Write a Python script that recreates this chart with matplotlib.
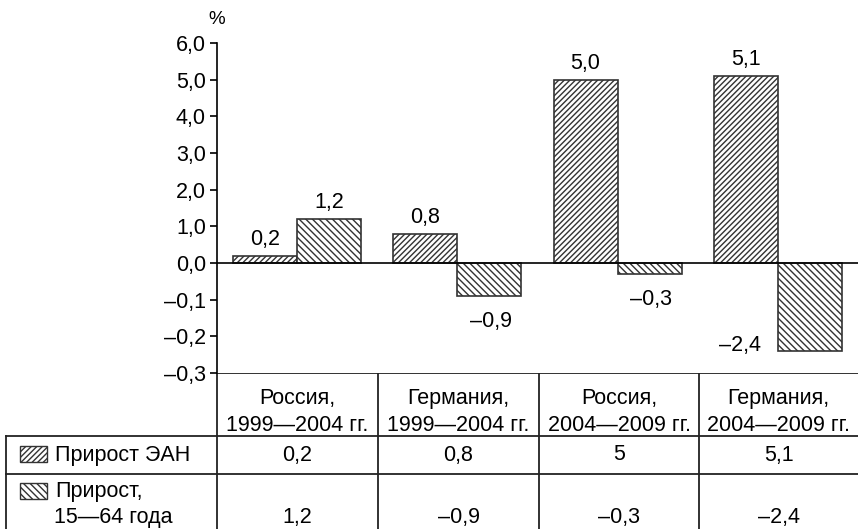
import numpy as np
import matplotlib
matplotlib.use("Agg")
import matplotlib.pyplot as plt
from matplotlib.patches import Rectangle

plt.rcParams['font.family'] = ['Liberation Sans', 'DejaVu Sans']
plt.rcParams['hatch.linewidth'] = 1.0

categories = ["Россия,\n1999—2004 гг.", "Германия,\n1999—2004 гг.",
              "Россия,\n2004—2009 гг.", "Германия,\n2004—2009 гг."]
ean_growth = [0.2, 0.8, 5.0, 5.1]
pop_growth = [1.2, -0.9, -0.3, -2.4]
series_names = ["Прирост ЭАН", "Прирост,\n15—64 года"]
ytick_vals = [6, 5, 4, 3, 2, 1, 0, -1, -2, -3]
ytick_labels = ["6,0", "5,0", "4,0", "3,0", "2,0", "1,0", "0,0", "–0,1", "–0,2", "–0,3"]

hatches = ["//////", "\\\\\\\\\\"]
FS = 15.5
EDGE = "#333333"


def fmt_bar(v):
    s = f"{abs(v):.1f}".replace(".", ",")
    return ("–" + s) if v < 0 else s


def fmt_cell(v):
    s = f"{abs(v):g}".replace(".", ",")
    return ("–" + s) if v < 0 else s


W, H = 858, 529
fig = plt.figure(figsize=(W / 100, H / 100), dpi=100)

# chart area, in pixel coords of the original layout
ax_l, ax_r, ax_t, ax_b = 217, 858, 43, 373
ax = fig.add_axes([ax_l / W, 1 - ax_b / H, (ax_r - ax_l) / W, (ax_b - ax_t) / H])

x = np.arange(len(categories)) + 0.5
bw = 0.4
b1 = ax.bar(x - bw / 2, ean_growth, bw, facecolor="white", edgecolor=EDGE,
            hatch=hatches[0], lw=1.2, zorder=2)
b2 = ax.bar(x + bw / 2, pop_growth, bw, facecolor="white", edgecolor=EDGE,
            hatch=hatches[1], lw=1.2, zorder=2)
ax.axhline(0, color="black", lw=1.2, zorder=3)

for rect, v in zip(b1, ean_growth):
    ax.annotate(fmt_bar(v), (rect.get_x() + rect.get_width() / 2, v),
                xytext=(0, 8), textcoords="offset points",
                ha="center", va="baseline", fontsize=FS)
for rect, v in zip(b2, pop_growth):
    cx = rect.get_x() + rect.get_width() / 2
    if v >= 0:
        ax.annotate(fmt_bar(v), (cx, v), xytext=(0, 8), textcoords="offset points",
                    ha="center", va="baseline", fontsize=FS)
    elif v > -1:
        ax.annotate(fmt_bar(v), (cx, v), xytext=(1, -11), textcoords="offset points",
                    ha="center", va="top", fontsize=FS)
    else:
        # long bar: value goes to the left of its bottom
        ax.annotate(fmt_bar(v), (rect.get_x(), v), xytext=(-12, 0), textcoords="offset points",
                    ha="right", va="baseline", fontsize=FS)

ax.set_xlim(0, len(categories))
ax.set_ylim(-3, 6)
ax.set_yticks(ytick_vals)
ax.set_yticklabels(ytick_labels, fontsize=FS)
ax.tick_params(axis="y", direction="out", length=5, width=1.2, pad=3)
ax.set_xticks([])
for side in ["top", "right", "bottom"]:
    ax.spines[side].set_visible(False)
ax.spines["left"].set_linewidth(1.2)
ax.text(0.0, 1.045, "%", transform=ax.transAxes, fontsize=FS - 2, ha="center", va="bottom")

# table below the chart, drawn on a full-figure overlay in pixel coords
tb = fig.add_axes([0, 0, 1, 1], zorder=-1)
tb.set_xlim(0, W)
tb.set_ylim(H, 0)
tb.axis("off")
col_edges = [217, 378, 539, 699, 858]
row_edges = [373, 436, 474, 529]
lc = dict(color="#222222", lw=1.3)
tb.plot([col_edges[0], W], [row_edges[0]] * 2, **lc)
tb.plot([6, W], [row_edges[1]] * 2, **lc)
tb.plot([6, W], [row_edges[2]] * 2, **lc)
tb.plot([6, 6], [row_edges[1], H], **lc)
for xe in col_edges[:-1]:
    tb.plot([xe, xe], [row_edges[0], H], **lc)

for i, cat in enumerate(categories):
    cx = (col_edges[i] + col_edges[i + 1]) / 2
    tb.text(cx, 412, cat, ha="center", va="center", fontsize=FS, linespacing=1.4)
    tb.text(cx, 455, fmt_cell(ean_growth[i]), ha="center", va="center", fontsize=FS)
    tb.text(cx, 517, fmt_cell(pop_growth[i]), ha="center", va="center", fontsize=FS)

# legend swatches in the row headers
tb.add_patch(Rectangle((20, 446), 27, 16, facecolor="white", edgecolor=EDGE,
                       hatch=hatches[0], lw=1.0))
tb.text(55, 455, series_names[0], ha="left", va="center", fontsize=FS)
tb.add_patch(Rectangle((20, 483), 27, 16, facecolor="white", edgecolor=EDGE,
                       hatch=hatches[1], lw=1.0))
first, second = series_names[1].split("\n")
tb.text(55, 492, first, ha="left", va="center", fontsize=FS)
tb.text(54, 517, second, ha="left", va="center", fontsize=FS)

fig.savefig("out.png", dpi=100)
